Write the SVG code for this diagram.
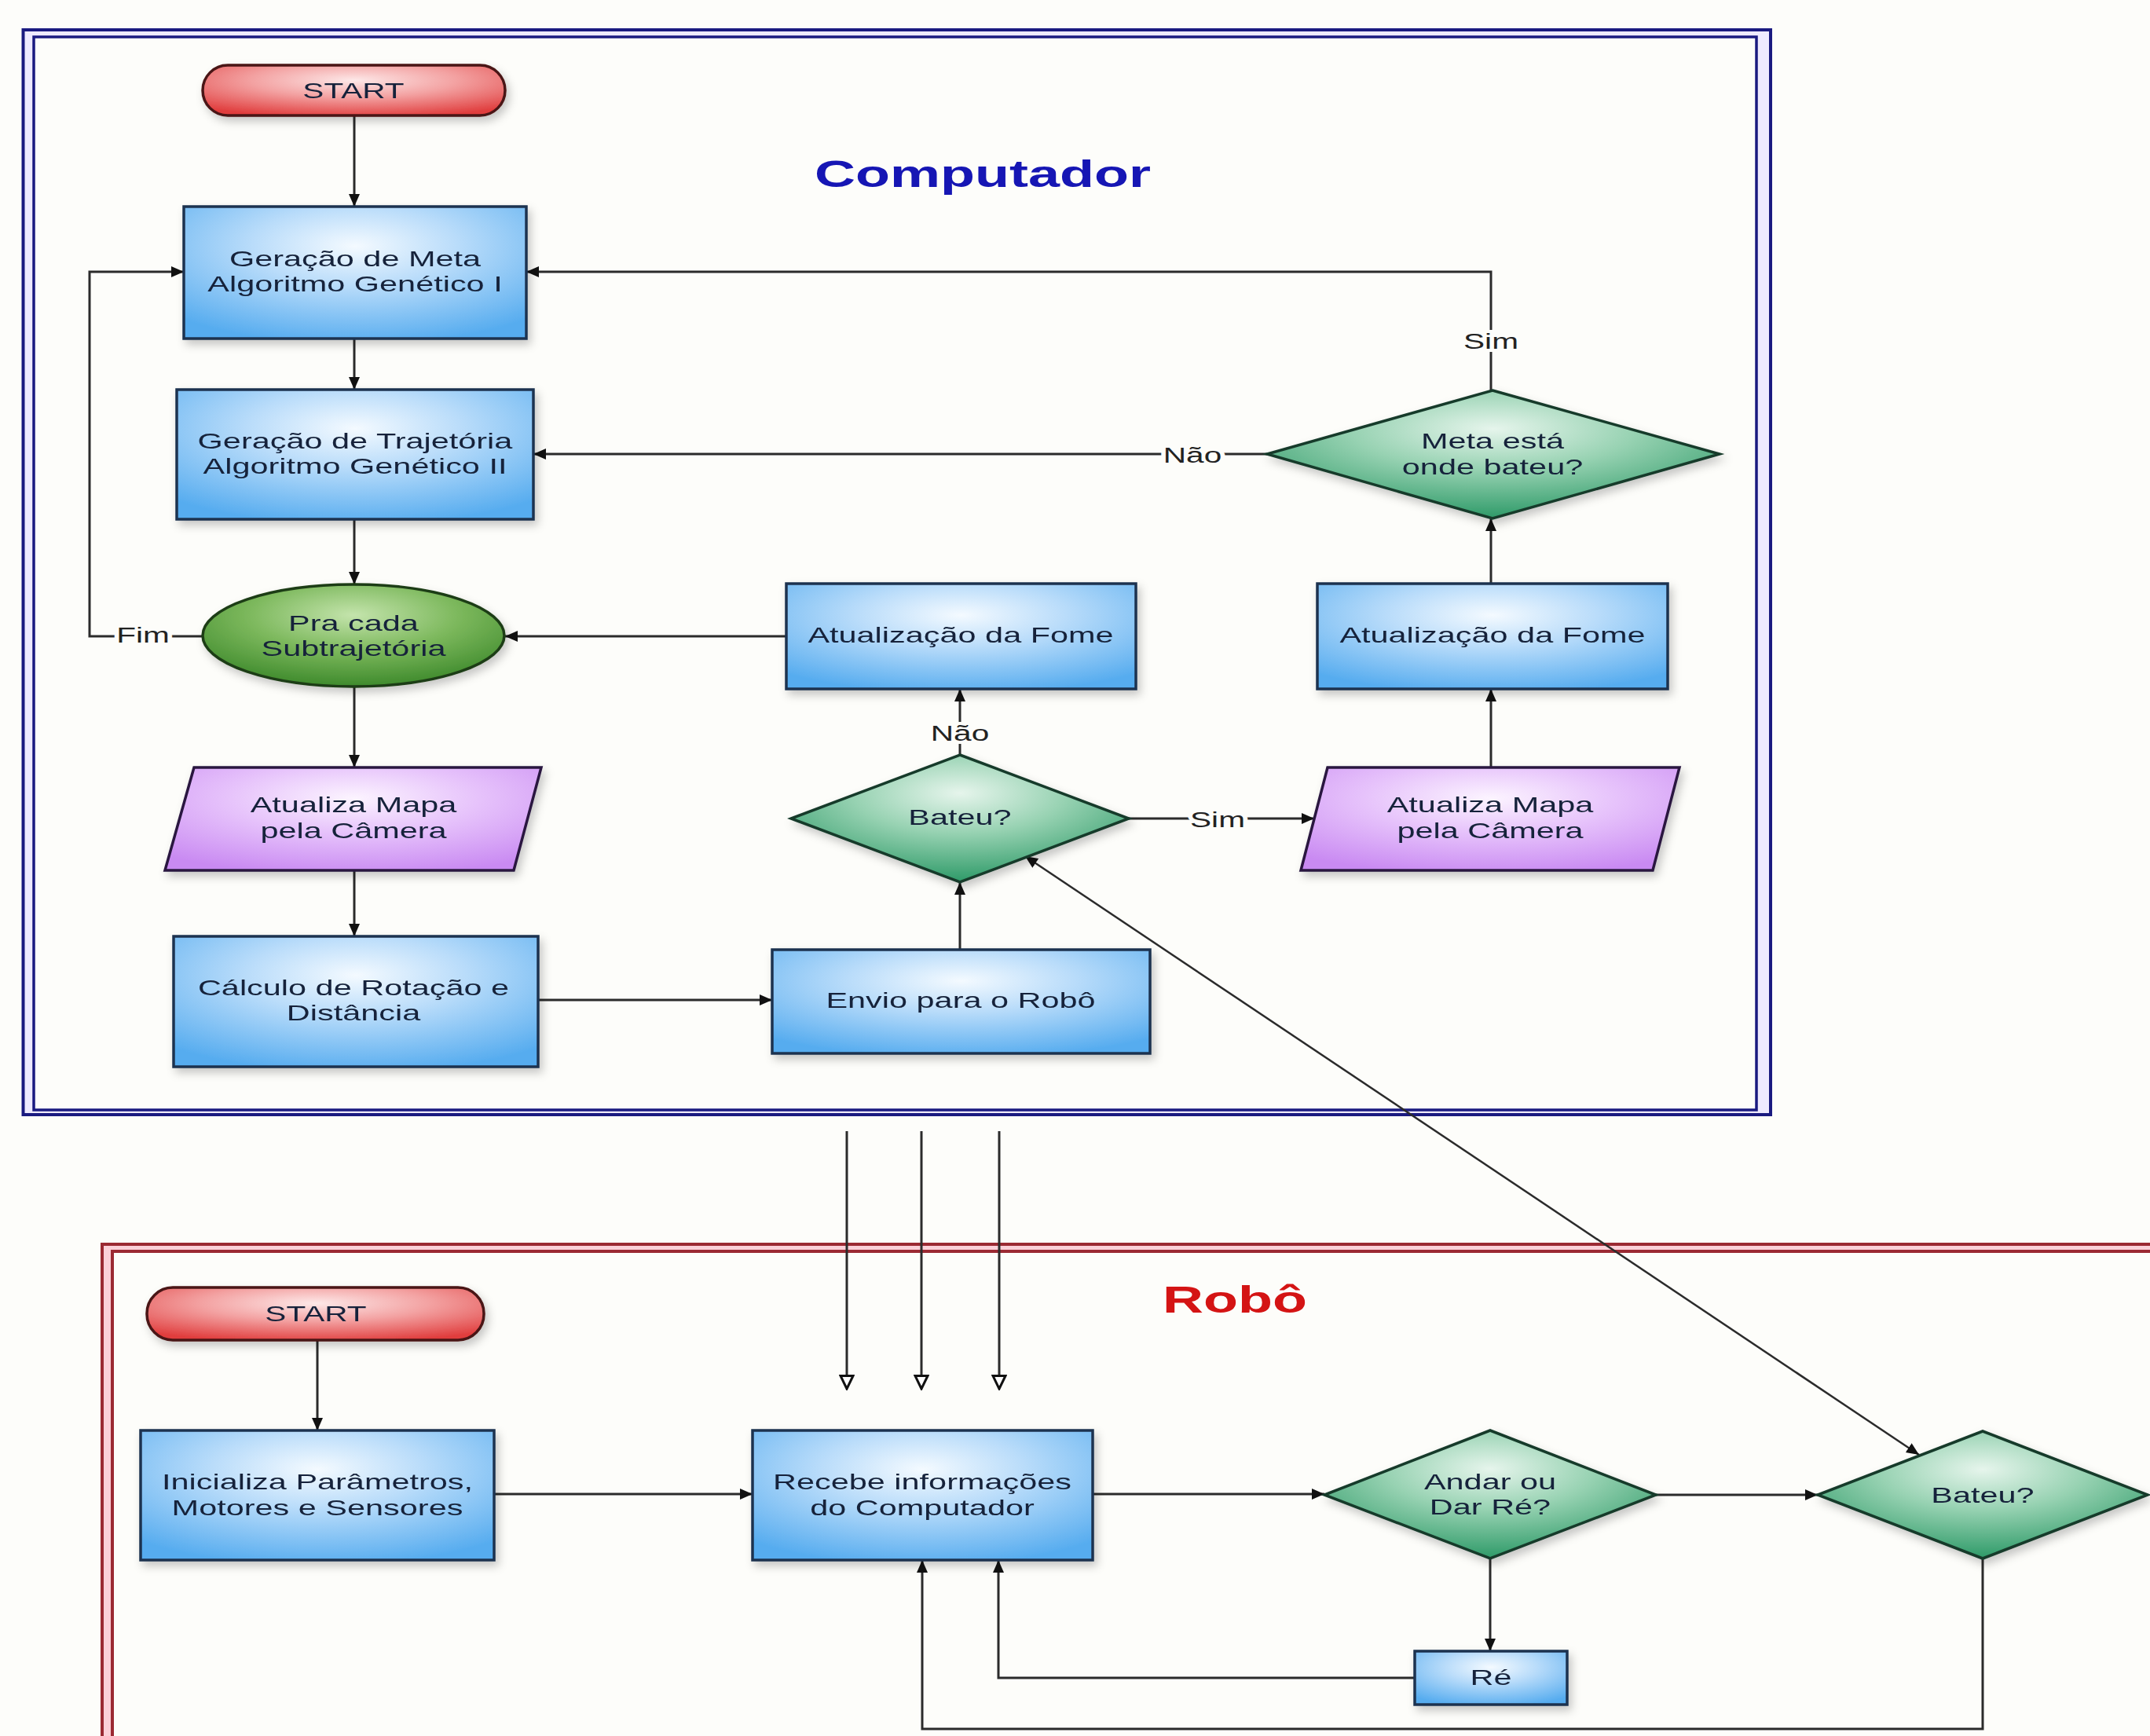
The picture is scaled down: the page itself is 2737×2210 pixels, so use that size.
<svg xmlns="http://www.w3.org/2000/svg" width="2737" height="2210" viewBox="0 0 2737 2210">
<style>
.t{font-family:"Liberation Sans",Arial,sans-serif;font-size:28px;fill:#16233a;text-anchor:middle}
.lbl{font-family:"Liberation Sans",Arial,sans-serif;font-size:28px;fill:#222;text-anchor:middle;stroke:#fdfdfa;stroke-width:8px;paint-order:stroke}
.title{font-family:"Liberation Sans",Arial,sans-serif;font-size:48px;font-weight:bold;text-anchor:middle}
.box{fill:url(#gBlue);stroke:#1e3350;stroke-width:3.5}
.dia{fill:url(#gGreen);stroke:#173a2c;stroke-width:3.5}
.ell{fill:url(#gOlive);stroke:#1f3d16;stroke-width:3.5}
.par{fill:url(#gPurple);stroke:#2a1840;stroke-width:3.5}
.term{fill:url(#gRed);stroke:#4a1414;stroke-width:3.5}
.node{filter:url(#shadow)}
</style>
<defs>
<radialGradient id="gBlue" cx="0.5" cy="0.3" r="0.75">
<stop offset="0" stop-color="#f4faff"/><stop offset="0.4" stop-color="#b9dcfa"/><stop offset="1" stop-color="#56acef"/>
</radialGradient>
<radialGradient id="gGreen" cx="0.5" cy="0.3" r="0.7">
<stop offset="0" stop-color="#e6f5ec"/><stop offset="0.45" stop-color="#97d2b2"/><stop offset="1" stop-color="#2e9a68"/>
</radialGradient>
<radialGradient id="gOlive" cx="0.5" cy="0.3" r="0.7">
<stop offset="0" stop-color="#c4e4ac"/><stop offset="0.5" stop-color="#7cb85c"/><stop offset="1" stop-color="#3e8a2c"/>
</radialGradient>
<radialGradient id="gPurple" cx="0.5" cy="0.3" r="0.75">
<stop offset="0" stop-color="#fcf4ff"/><stop offset="0.45" stop-color="#e6c2fb"/><stop offset="1" stop-color="#c98af2"/>
</radialGradient>
<radialGradient id="gRed" cx="0.5" cy="0.3" r="0.75">
<stop offset="0" stop-color="#fde8e8"/><stop offset="0.45" stop-color="#f3a2a2"/><stop offset="1" stop-color="#e03c3c"/>
</radialGradient>
<filter id="shadow" x="-20%" y="-30%" width="140%" height="170%">
<feDropShadow dx="4" dy="6" stdDeviation="6" flood-color="#000" flood-opacity="0.22"/>
</filter>
<marker id="arr" viewBox="0 0 16 14" refX="16" refY="7" markerWidth="16" markerHeight="14" markerUnits="userSpaceOnUse" orient="auto-start-reverse">
<path d="M0,0 L16,7 L0,14 z" fill="#111"/>
</marker>
<marker id="arrOpen" viewBox="0 0 20 20" refX="1" refY="10" markerWidth="20" markerHeight="20" markerUnits="userSpaceOnUse" orient="auto">
<path d="M1.5,2 L18,10 L1.5,18 z" fill="#fff" stroke="#111" stroke-width="3" stroke-linejoin="miter"/>
</marker>
</defs>

<rect x="0" y="0" width="2737" height="2210" fill="#fdfdfa"/>

<g id="frame-computador">
<rect x="29.5" y="38" width="2224.5" height="1381" fill="#eeeaff" stroke="#1a1a80" stroke-width="4"/>
<rect x="43" y="47" width="2193" height="1366" fill="#fdfdfa" stroke="#1a1a80" stroke-width="3.5"/>
</g>
<g id="frame-robo" fill="none">
<path d="M136.5,2220 V1588.5 H2750" stroke="#fbd0d8" stroke-width="9"/>
<path d="M130,2220 V1584 H2750" stroke="#9b2a33" stroke-width="4"/>
<path d="M143,2220 V1593 H2750" stroke="#9b2a33" stroke-width="4"/>
</g>

<text class="title" fill="#1616b4" transform="translate(1251 238) scale(1.5 1)">Computador</text>
<text class="title" fill="#d41414" transform="translate(1572 1671) scale(1.5 1)">Robô</text>

<g id="connectors" fill="none" stroke="#2b2b2b" stroke-width="3">
<path d="M451,147 V263" marker-end="url(#arr)"/>
<path d="M451,431 V496" marker-end="url(#arr)"/>
<path d="M451,661 V744" marker-end="url(#arr)"/>
<path d="M451,874 V977" marker-end="url(#arr)"/>
<path d="M451,1108 V1192" marker-end="url(#arr)"/>
<path d="M685,1273 H983" marker-end="url(#arr)"/>
<path d="M1222,1209 V1123" marker-end="url(#arr)"/>
<path d="M1222,961 V877" marker-end="url(#arr)"/>
<path d="M1001,810 H643" marker-end="url(#arr)"/>
<path d="M258,810 H114 V346 H234" marker-end="url(#arr)"/>
<path d="M1437,1042 H1673" marker-end="url(#arr)"/>
<path d="M1898,977 V877" marker-end="url(#arr)"/>
<path d="M1898,743 V660" marker-end="url(#arr)"/>
<path d="M1613,578 H679" marker-end="url(#arr)"/>
<path d="M1898,497 V346 H670" marker-end="url(#arr)"/>
<path d="M1078,1440 V1751" marker-end="url(#arrOpen)"/>
<path d="M1173,1440 V1751" marker-end="url(#arrOpen)"/>
<path d="M1272,1440 V1751" marker-end="url(#arrOpen)"/>
<path d="M1305,1090 L2443,1852" stroke-width="2.5" marker-start="url(#arr)" marker-end="url(#arr)"/>
<path d="M404,1706 V1821" marker-end="url(#arr)"/>
<path d="M629,1902 H958" marker-end="url(#arr)"/>
<path d="M1391,1902 H1686" marker-end="url(#arr)"/>
<path d="M2108,1903 H2314" marker-end="url(#arr)"/>
<path d="M1897,1984 V2102" marker-end="url(#arr)"/>
<path d="M1801,2136 H1271 V1986" marker-end="url(#arr)"/>
<path d="M2524,1984 V2201 H1174 V1986" marker-end="url(#arr)"/>
</g>

<g id="labels">
<text class="lbl" transform="translate(182 818) scale(1.45 1)">Fim</text>
<text class="lbl" transform="translate(1898 444) scale(1.45 1)">Sim</text>
<text class="lbl" transform="translate(1518 589) scale(1.45 1)">Não</text>
<text class="lbl" transform="translate(1222 943) scale(1.45 1)">Não</text>
<text class="lbl" transform="translate(1550 1053) scale(1.45 1)">Sim</text>
</g>

<g id="start-computador" class="node">
<rect class="term" x="258" y="83" width="385" height="64" rx="32"/>
<text class="t" transform="translate(450 125) scale(1.45 1)">START</text>
</g>
<g id="geracao-meta" class="node">
<rect class="box" x="234" y="263" width="436" height="168"/>
<text class="t" transform="translate(452 339) scale(1.48 1)"><tspan x="0">Geração de Meta</tspan><tspan x="0" dy="32">Algoritmo Genético I</tspan></text>
</g>
<g id="geracao-trajetoria" class="node">
<rect class="box" x="225" y="496" width="454" height="165"/>
<text class="t" transform="translate(452 571) scale(1.48 1)"><tspan x="0">Geração de Trajetória</tspan><tspan x="0" dy="32">Algoritmo Genético II</tspan></text>
</g>
<g id="pra-cada" class="node">
<ellipse class="ell" cx="450" cy="809" rx="192" ry="65"/>
<text class="t" transform="translate(450 803) scale(1.48 1)"><tspan x="0">Pra cada</tspan><tspan x="0" dy="32">Subtrajetória</tspan></text>
</g>
<g id="atualiza-mapa-1" class="node">
<polygon class="par" points="247,977 689,977 654,1108 210,1108"/>
<text class="t" transform="translate(450 1034) scale(1.48 1)"><tspan x="0">Atualiza Mapa</tspan><tspan x="0" dy="33">pela Câmera</tspan></text>
</g>
<g id="calculo" class="node">
<rect class="box" x="221" y="1192" width="464" height="166"/>
<text class="t" transform="translate(450 1267) scale(1.48 1)"><tspan x="0">Cálculo de Rotação e</tspan><tspan x="0" dy="32">Distância</tspan></text>
</g>
<g id="envio" class="node">
<rect class="box" x="983" y="1209" width="481" height="132"/>
<text class="t" transform="translate(1223 1283) scale(1.48 1)">Envio para o Robô</text>
</g>
<g id="bateu-computador" class="node">
<polygon class="dia" points="1222,961 1437,1042 1222,1123 1007,1042"/>
<text class="t" transform="translate(1222 1050) scale(1.48 1)">Bateu?</text>
</g>
<g id="fome-1" class="node">
<rect class="box" x="1001" y="743" width="445" height="134"/>
<text class="t" transform="translate(1223 818) scale(1.48 1)">Atualização da Fome</text>
</g>
<g id="atualiza-mapa-2" class="node">
<polygon class="par" points="1690,977 2138,977 2104,1108 1656,1108"/>
<text class="t" transform="translate(1897 1034) scale(1.48 1)"><tspan x="0">Atualiza Mapa</tspan><tspan x="0" dy="33">pela Câmera</tspan></text>
</g>
<g id="fome-2" class="node">
<rect class="box" x="1677" y="743" width="446" height="134"/>
<text class="t" transform="translate(1900 818) scale(1.48 1)">Atualização da Fome</text>
</g>
<g id="meta-esta" class="node">
<polygon class="dia" points="1900,497 2189,578 1900,660 1613,578"/>
<text class="t" transform="translate(1900 571) scale(1.48 1)"><tspan x="0">Meta está</tspan><tspan x="0" dy="33">onde bateu?</tspan></text>
</g>

<g id="start-robo" class="node">
<rect class="term" x="187" y="1639" width="429" height="67" rx="33"/>
<text class="t" transform="translate(402 1682) scale(1.45 1)">START</text>
</g>
<g id="inicializa" class="node">
<rect class="box" x="179" y="1821" width="450" height="165"/>
<text class="t" transform="translate(404 1896) scale(1.48 1)"><tspan x="0">Inicializa Parâmetros,</tspan><tspan x="0" dy="33">Motores e Sensores</tspan></text>
</g>
<g id="recebe" class="node">
<rect class="box" x="958" y="1821" width="433" height="165"/>
<text class="t" transform="translate(1174 1896) scale(1.48 1)"><tspan x="0">Recebe informações</tspan><tspan x="0" dy="33">do Computador</tspan></text>
</g>
<g id="andar" class="node">
<polygon class="dia" points="1897,1821 2108,1903 1897,1984 1686,1903"/>
<text class="t" transform="translate(1897 1896) scale(1.48 1)"><tspan x="0">Andar ou</tspan><tspan x="0" dy="32">Dar Ré?</tspan></text>
</g>
<g id="bateu-robo" class="node">
<polygon class="dia" points="2524,1822 2734,1903 2524,1984 2314,1903"/>
<text class="t" transform="translate(2524 1913) scale(1.48 1)">Bateu?</text>
</g>
<g id="re" class="node">
<rect class="box" x="1801" y="2102" width="194" height="68"/>
<text class="t" transform="translate(1898 2145) scale(1.48 1)">Ré</text>
</g>
</svg>
